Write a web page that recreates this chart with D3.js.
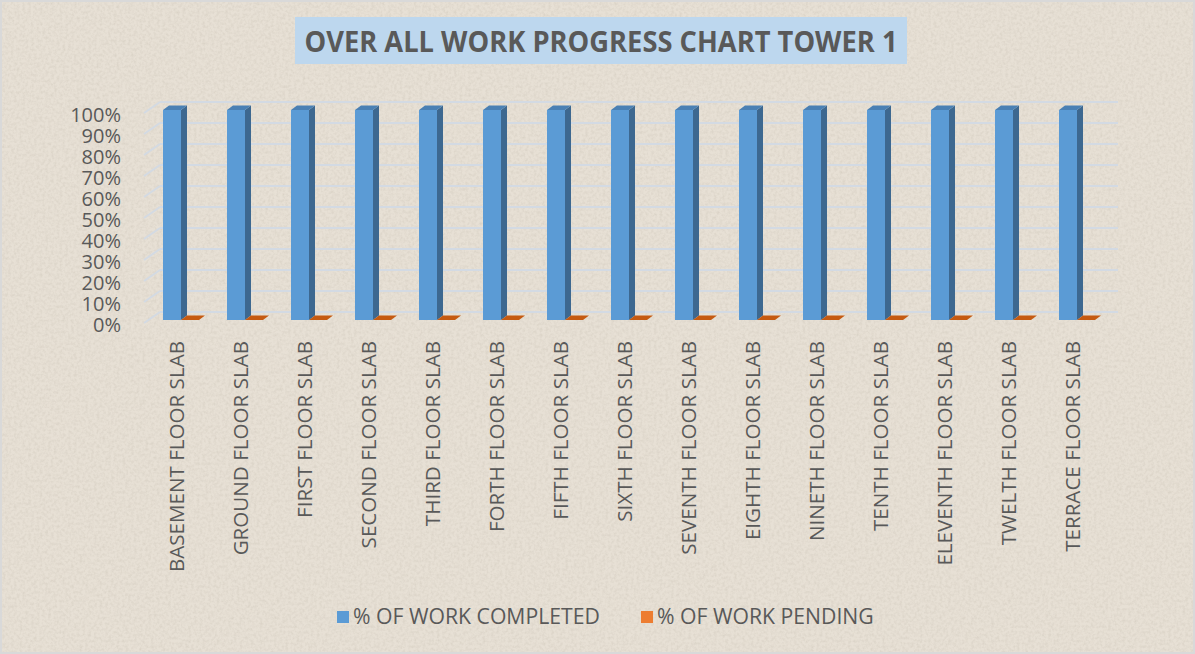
<!DOCTYPE html>
<html>
<head>
<meta charset="utf-8">
<script src="https://cdn.jsdelivr.net/npm/d3@7"></script>
<style>
  html, body { margin: 0; padding: 0; background: #ffffff; }
  svg { display: block; font-family: "Open Sans", "Liberation Sans", sans-serif; }
</style>
</head>
<body>
<svg id="chart" width="1195" height="654"></svg>
<script>
// chart data
const categories = [
    "BASEMENT FLOOR SLAB", "GROUND FLOOR SLAB", "FIRST FLOOR SLAB", "SECOND FLOOR SLAB",
    "THIRD FLOOR SLAB", "FORTH FLOOR SLAB", "FIFTH FLOOR SLAB", "SIXTH FLOOR SLAB",
    "SEVENTH FLOOR SLAB", "EIGHTH FLOOR SLAB", "NINETH FLOOR SLAB", "TENTH FLOOR SLAB",
    "ELEVENTH FLOOR SLAB", "TWELTH FLOOR SLAB", "TERRACE FLOOR SLAB"
];
const workCompleted = [1, 1, 1, 1, 1, 1, 1, 1, 1, 1, 1, 1, 1, 1, 1];
const workPending   = [0, 0, 0, 0, 0, 0, 0, 0, 0, 0, 0, 0, 0, 0, 0];
const seriesNames = ["% OF WORK COMPLETED", "% OF WORK PENDING"];
const yTicks = [0, 0.1, 0.2, 0.3, 0.4, 0.5, 0.6, 0.7, 0.8, 0.9, 1];
const chartTitle = "OVER ALL WORK PROGRESS CHART TOWER 1";

const svg = d3.select("#chart");
const W = 1195, H = 654;

//background paper with a soft texture
const defs = svg.append("defs");
const f = defs.append("filter").attr("id", "paper")
    .attr("x", 0).attr("y", 0).attr("width", "100%").attr("height", "100%");
f.append("feTurbulence").attr("type", "fractalNoise")
    .attr("baseFrequency", 0.35).attr("numOctaves", 3).attr("seed", 4).attr("result", "noise");
f.append("feColorMatrix").attr("type", "matrix")
    .attr("values", "0 0 0 0 0.55  0 0 0 0 0.5  0 0 0 0 0.42  0 0 0 -1.6 1.0")
    .attr("result", "speck");
f.append("feComposite").attr("in", "speck").attr("in2", "SourceGraphic").attr("operator", "in");

svg.append("rect").attr("width", W).attr("height", H).attr("fill", "#d9d9d9");
svg.append("rect").attr("x", 2).attr("y", 2).attr("width", W - 4).attr("height", H - 4)
    .attr("fill", "#e7e0d5");
svg.append("rect").attr("x", 2).attr("y", 2).attr("width", W - 4).attr("height", H - 4)
    .attr("fill", "#e7e0d5").attr("filter", "url(#paper)").attr("opacity", 0.4);

//title box
svg.append("rect")
    .attr("x", 295).attr("y", 17).attr("width", 612).attr("height", 47)
    .attr("fill", "#bdd7ee");
svg.append("text")
    .attr("x", 601).attr("y", 52)
    .attr("text-anchor", "middle")
    .attr("font-size", 28).attr("font-weight", 700)
    .attr("fill", "#595959")
    .attr("textLength", 593).attr("lengthAdjust", "spacingAndGlyphs")
    .text(chartTitle);

//scales
const x = d3.scaleBand().domain(categories).range([145, 1105]);
const xs = d3.scaleBand().domain(seriesNames).range([18, 54]);
const yBar = d3.scaleLinear().domain([0, 1]).range([320, 110]);
const yBack = d3.scaleLinear().domain([0, 1]).range([312, 102]);

//3d offsets
const wallDx = 16, wallDy = -11;
const barDx = 6, barDy = -4.5;

//walls gridlines
const grid = svg.append("g").attr("stroke", "#d3dae3").attr("stroke-width", 2).attr("fill", "none");
grid.selectAll(".hgrid").data(yTicks).enter().append("line")
    .attr("x1", 160).attr("x2", 1118)
    .attr("y1", d => yBack(d)).attr("y2", d => yBack(d));
grid.selectAll(".dgrid").data(yTicks).enter().append("line")
    .attr("x1", 160 - wallDx).attr("y1", d => yBack(d) - wallDy)
    .attr("x2", 160).attr("y2", d => yBack(d));

//y axis labels
svg.append("g").selectAll("text").data(yTicks).enter().append("text")
    .attr("x", 121)
    .attr("y", d => yBack(d) - wallDy + 2)
    .attr("dy", "0.35em")
    .attr("text-anchor", "end")
    .attr("font-size", 20)
    .attr("fill", "#595959")
    .text(d3.format(".0%"));

//bars
const seriesData = [
    {name: seriesNames[0], values: workCompleted, front: "#5b9bd5", side: "#3d6890", top: "#4a80b4"},
    {name: seriesNames[1], values: workPending, front: "#ed7d31", side: "#a9591f", top: "#c55a11"}
];

function barShape(g, x0, w, v, s) {
    const y0 = yBar(0), y1 = yBar(v);
    g.append("rect").attr("x", x0).attr("y", y1).attr("width", w).attr("height", y0 - y1)
        .attr("fill", s.front);
    g.append("polygon")
        .attr("points", [[x0 + w, y0], [x0 + w + barDx, y0 + barDy], [x0 + w + barDx, y1 + barDy], [x0 + w, y1]].join(" "))
        .attr("fill", s.side);
    g.append("polygon")
        .attr("points", [[x0, y1], [x0 + barDx, y1 + barDy], [x0 + w + barDx, y1 + barDy], [x0 + w, y1]].join(" "))
        .attr("fill", s.top);
}

const barsG = svg.append("g");
categories.forEach((c, i) => {
    seriesData.forEach(s => {
        barShape(barsG, x(c) + xs(s.name), xs.bandwidth(), s.values[i], s);
    });
});

//category labels
svg.append("g").selectAll("text").data(categories).enter().append("text")
    .attr("transform", d => "translate(" + (x(d) + x.bandwidth() / 2) + ",341) rotate(-90)")
    .attr("dy", "0.35em")
    .attr("text-anchor", "end")
    .attr("font-size", 20.6)
    .attr("fill", "#595959")
    .text(d => d);

//legend
const legendPos = [337, 641];
const legend = svg.append("g");
seriesData.forEach((s, i) => {
    legend.append("rect").attr("x", legendPos[i]).attr("y", 611).attr("width", 12).attr("height", 12)
        .attr("fill", s.front);
    legend.append("text").attr("x", legendPos[i] + 16).attr("y", 617).attr("dy", "0.35em")
        .attr("font-size", 21.2).attr("fill", "#595959")
        .text(s.name);
});
</script>
</body>
</html>
